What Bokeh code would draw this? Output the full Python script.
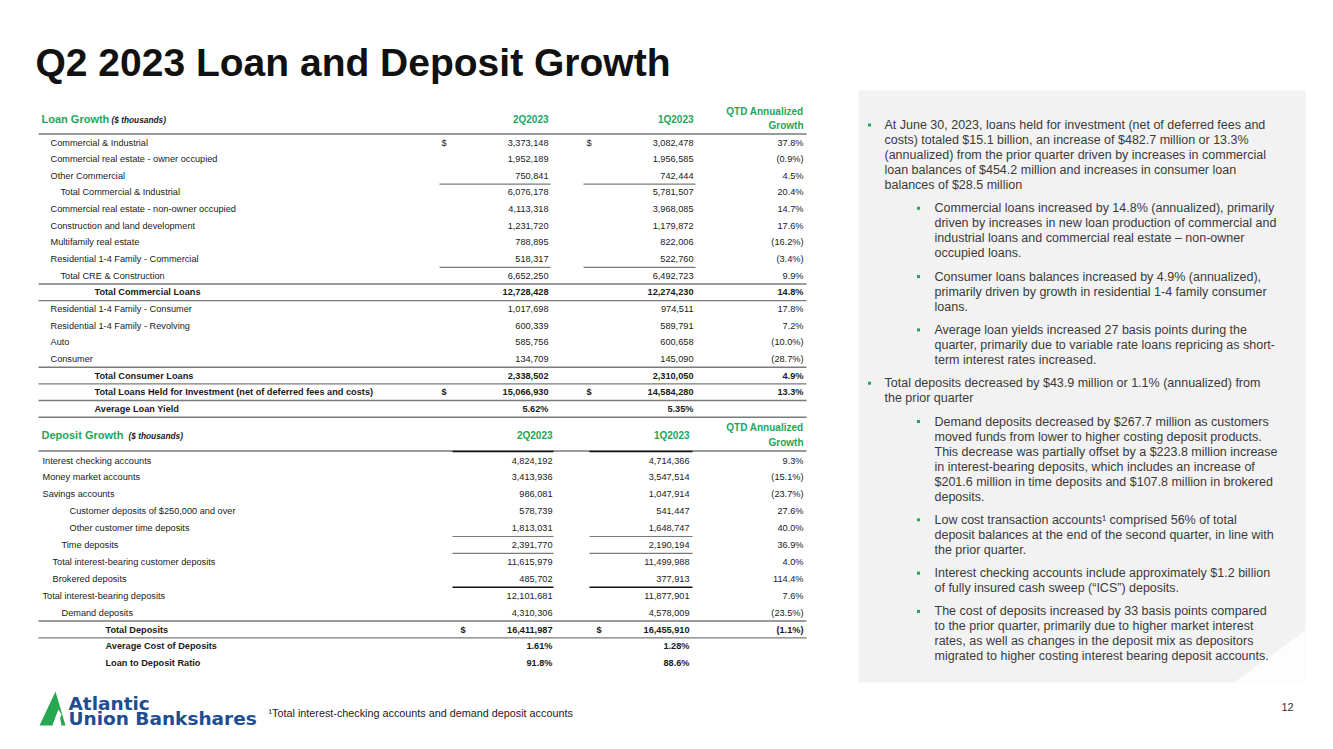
from bokeh.plotting import figure
from bokeh.models import Range1d, ColumnDataSource
from bokeh.embed import file_html
from bokeh.resources import INLINE
from bokeh.core.properties import value

# ---------------- data ----------------
title_text = "Q2 2023 Loan and Deposit Growth"
period_labels = ["2Q2023", "1Q2023"]
growth_header = ["QTD Annualized", "Growth"]
loan_title = ["Loan Growth", "($ thousands)"]
deposit_title = ["Deposit Growth", "($ thousands)"]

loan_labels = [
    "Commercial & Industrial",
    "Commercial real estate - owner occupied",
    "Other Commercial",
    "Total Commercial & Industrial",
    "Commercial real estate - non-owner occupied",
    "Construction and land development",
    "Multifamily real estate",
    "Residential 1-4 Family - Commercial",
    "Total CRE & Construction",
    "Total Commercial Loans",
    "Residential 1-4 Family - Consumer",
    "Residential 1-4 Family - Revolving",
    "Auto",
    "Consumer",
    "Total Consumer Loans",
    "Total Loans Held for Investment (net of deferred fees and costs)",
    "Average Loan Yield",
]
loan_2q = ["3,373,148", "1,952,189", "750,841", "6,076,178", "4,113,318", "1,231,720",
           "788,895", "518,317", "6,652,250", "12,728,428", "1,017,698", "600,339",
           "585,756", "134,709", "2,338,502", "15,066,930", "5.62%"]
loan_1q = ["3,082,478", "1,956,585", "742,444", "5,781,507", "3,968,085", "1,179,872",
           "822,006", "522,760", "6,492,723", "12,274,230", "974,511", "589,791",
           "600,658", "145,090", "2,310,050", "14,584,280", "5.35%"]
loan_growth = ["37.8%", "(0.9%)", "4.5%", "20.4%", "14.7%", "17.6%", "(16.2%)", "(3.4%)",
               "9.9%", "14.8%", "17.8%", "7.2%", "(10.0%)", "(28.7%)", "4.9%", "13.3%", ""]

dep_labels = [
    "Interest checking accounts",
    "Money market accounts",
    "Savings accounts",
    "Customer deposits of  $250,000 and over",
    "Other customer time deposits",
    "Time deposits",
    "Total interest-bearing customer deposits",
    "Brokered deposits",
    "Total interest-bearing deposits",
    "Demand deposits",
    "Total Deposits",
    "Average Cost of Deposits",
    "Loan to Deposit Ratio",
]
dep_2q = ["4,824,192", "3,413,936", "986,081", "578,739", "1,813,031", "2,391,770",
          "11,615,979", "485,702", "12,101,681", "4,310,306", "16,411,987", "1.61%", "91.8%"]
dep_1q = ["4,714,366", "3,547,514", "1,047,914", "541,447", "1,648,747", "2,190,194",
          "11,499,988", "377,913", "11,877,901", "4,578,009", "16,455,910", "1.28%", "88.6%"]
dep_growth = ["9.3%", "(15.1%)", "(23.7%)", "27.6%", "40.0%", "36.9%", "4.0%", "114.4%",
              "7.6%", "(23.5%)", "(1.1%)", "", ""]

bullet_main_1 = [
    "At June 30, 2023, loans held for investment (net of deferred fees and",
    "costs) totaled $15.1 billion, an increase of $482.7 million or 13.3%",
    "(annualized) from the prior quarter driven by increases in commercial",
    "loan balances of $454.2 million and increases in consumer loan",
    "balances of $28.5 million",
]
bullet_sub_1 = [
    ["Commercial loans increased by 14.8% (annualized), primarily",
     "driven by increases in new loan production of commercial and",
     "industrial loans and commercial real estate \u2013 non-owner",
     "occupied loans."],
    ["Consumer loans balances increased by 4.9% (annualized),",
     "primarily driven by growth in residential 1-4 family consumer",
     "loans."],
    ["Average loan yields increased 27 basis points during the",
     "quarter, primarily due to variable rate loans repricing as short-",
     "term interest rates increased."],
]
bullet_main_2 = [
    "Total deposits decreased by $43.9 million or 1.1% (annualized) from",
    "the prior quarter",
]
bullet_sub_2 = [
    ["Demand deposits decreased by $267.7 million as customers",
     "moved funds from lower to higher costing deposit products.",
     "This decrease was partially offset by a $223.8 million increase",
     "in interest-bearing deposits, which includes an increase of",
     "$201.6 million in time deposits and  $107.8 million in brokered",
     "deposits."],
    ["Low cost transaction accounts\u00b9 comprised 56% of total",
     "deposit balances at the end of the second quarter, in line with",
     "the prior quarter."],
    ["Interest checking accounts include approximately $1.2 billion",
     "of fully insured cash sweep (\u201cICS\u201d) deposits."],
    ["The cost of deposits increased by 33 basis points compared",
     "to the prior quarter, primarily due to higher market interest",
     "rates, as well as changes in the deposit mix as depositors",
     "migrated to higher costing interest bearing deposit accounts."],
]
footnote_text = "\u00b9Total interest-checking accounts and demand deposit accounts"
page_number = "12"
logo_lines = ["Atlantic", "Union Bankshares"]

# ---------------- layout / style ----------------
FONT = "Liberation Sans"
GREEN = "#22a65a"
TXT = "#1a1a1a"
BTXT = "#3a3a3a"
RULE = "#8c8c8c"
W, H = 1325, 745

p = figure(width=W, height=H, x_range=Range1d(0, W), y_range=Range1d(H, 0),
           output_backend="svg", toolbar_location=None, min_border=0,
           x_axis_location=None, y_axis_location=None)
p.grid.visible = False
p.outline_line_color = None
p.background_fill_color = "white"
p.border_fill_color = "white"


def add_text(xs, ys, texts, size, color=TXT, align="left", style="normal",
             baseline="middle", font=FONT):
    src = ColumnDataSource(dict(x=list(xs), y=list(ys), t=list(texts)))
    p.text(x="x", y="y", text="t", source=src, text_font=value(font),
           text_font_size=size, text_color=color, text_align=align,
           text_baseline=baseline, text_font_style=style)


def rules(x0, x1, ys, color=RULE, width=1.3):
    p.segment(x0=list(x0), y0=list(ys), x1=list(x1), y1=list(ys),
              line_color=color, line_width=width)


# title
add_text([35], [62], [title_text], "39px", color="#111111", style="bold", baseline="alphabetic")

# right panel
p.quad(left=858, right=1305, top=90, bottom=682, fill_color="#f2f2f2", line_color=None)
p.patch([1305, 1305, 1232], [630, 683, 683], fill_color="white", fill_alpha=0.85, line_color=None)

# ---------- loan table ----------
L0, LSTEP = 142.0, 16.65
loan_y = [L0 + i * LSTEP for i in range(len(loan_labels))]
loan_x = [50, 50, 50, 60, 50, 50, 50, 50, 60, 94, 50, 50, 50, 50, 94, 94, 94]
loan_bold = {9, 14, 15, 16}
C2R, C1R, CGR = 548, 693, 803

add_text([41], [118.5], [loan_title[0]], "11px", color=GREEN, style="bold")
add_text([111], [119], [loan_title[1]], "8.3px", color=TXT, style="bold italic")
add_text([C2R, C1R], [118.5, 118.5], period_labels, "10px", color=GREEN, align="right", style="bold")
add_text([CGR, CGR], [111, 125], growth_header, "10px", color=GREEN, align="right", style="bold")
rules([38], [806], [133.5], color="#9a9a9a", width=2)

for bold in (False, True):
    idx = [i for i in range(len(loan_labels)) if (i in loan_bold) == bold]
    st = "bold" if bold else "normal"
    add_text([loan_x[i] for i in idx], [loan_y[i] for i in idx], [loan_labels[i] for i in idx], "9.2px", style=st)
    add_text([C2R] * len(idx), [loan_y[i] for i in idx], [loan_2q[i] for i in idx], "9.2px", align="right", style=st)
    add_text([C1R] * len(idx), [loan_y[i] for i in idx], [loan_1q[i] for i in idx], "9.2px", align="right", style=st)
    add_text([CGR] * len(idx), [loan_y[i] for i in idx], [loan_growth[i] for i in idx], "9.2px", align="right", style=st)

add_text([441, 586], [loan_y[0]] * 2, ["$"] * 2, "9.2px", style="normal")
add_text([441, 586], [loan_y[15]] * 2, ["$"] * 2, "9.2px", style="bold")
col_rule_rows = [2, 7]
ys = [loan_y[i] + 8.3 for i in col_rule_rows]
rules([439] * 2 + [583] * 2, [550] * 2 + [695] * 2, ys + ys, color="#7a7a7a", width=1.2)
full_rule_rows = [8, 9, 13, 14, 15, 16]
ys = [loan_y[i] + 8.3 for i in full_rule_rows]
rules([38] * len(ys), [806] * len(ys), ys, color="#7a7a7a", width=1.4)

# ---------- deposit table ----------
D0, DSTEP = 460.0, 16.9
dep_y = [D0 + i * DSTEP for i in range(len(dep_labels))]
dep_x = [42, 42, 42, 69, 69, 61, 52, 52, 42, 61, 105, 105, 105]
dep_bold = {10, 11, 12}
D2R, D1R = 552, 689

add_text([41], [434.5], [deposit_title[0]], "11px", color=GREEN, style="bold")
add_text([128], [435], [deposit_title[1]], "8.3px", color=TXT, style="bold italic")
add_text([D2R, D1R], [434.5, 434.5], period_labels, "10px", color=GREEN, align="right", style="bold")
add_text([CGR, CGR], [427, 442], growth_header, "10px", color=GREEN, align="right", style="bold")
rules([38], [806], [450.5], color="#9a9a9a", width=2)
rules([452, 589], [553, 692], [451, 451], color="#111111", width=1.6)

for bold in (False, True):
    idx = [i for i in range(len(dep_labels)) if (i in dep_bold) == bold]
    st = "bold" if bold else "normal"
    add_text([dep_x[i] for i in idx], [dep_y[i] for i in idx], [dep_labels[i] for i in idx], "9.2px", style=st)
    add_text([D2R] * len(idx), [dep_y[i] for i in idx], [dep_2q[i] for i in idx], "9.2px", align="right", style=st)
    add_text([D1R] * len(idx), [dep_y[i] for i in idx], [dep_1q[i] for i in idx], "9.2px", align="right", style=st)
    add_text([CGR] * len(idx), [dep_y[i] for i in idx], [dep_growth[i] for i in idx], "9.2px", align="right", style=st)

add_text([460, 596], [dep_y[10]] * 2, ["$", "$"], "9.2px", style="bold")
ys = [dep_y[i] + 8.4 for i in (4, 5)]
rules([452] * 2 + [589] * 2, [553] * 2 + [692] * 2, ys + ys, color="#7a7a7a", width=1.2)
yb = dep_y[7] + 8.4
rules([452, 589], [553, 692], [yb, yb], color="#111111", width=1.4)
ys = [dep_y[i] + 8.4 for i in (9, 10)]
rules([38, 38], [806, 806], ys, color="#7a7a7a", width=1.4)

# ---------- bullets ----------
LINE, PARA = 15.0, 23.3
MX, MTX, SX, STX = 869, 884, 918, 934
bx, by, tx, ty, tt = [], [], [], [], []
y = 124.5


def paragraph(lines, dot_x, text_x, y):
    bx.append(dot_x)
    by.append(y)
    for k, s in enumerate(lines):
        tx.append(text_x)
        ty.append(y + k * LINE)
        tt.append(s)
    return y + (len(lines) - 1) * LINE + PARA


y = paragraph(bullet_main_1, MX, MTX, y)
for sub in bullet_sub_1:
    y = paragraph(sub, SX, STX, y)
y = paragraph(bullet_main_2, MX, MTX, y)
for sub in bullet_sub_2:
    y = paragraph(sub, SX, STX, y)

add_text(tx, ty, tt, "12.5px", color=BTXT)
p.scatter(x=bx, y=by, marker="square", size=3, fill_color=GREEN, line_color=None)

# ---------- footer ----------
add_text([268], [712], [footnote_text], "10.8px", color=TXT)
add_text([1287], [706], [page_number], "11px", color="#333333", align="center")

# logo
p.patch([39, 55, 65, 61, 58, 52], [725, 691, 725, 725, 709, 725], fill_color="#27a74f", line_color=None)
p.patch([52, 58, 61, 57], [725, 709, 714, 725], fill_color="white", line_color=None)
add_text([68], [703], [logo_lines[0]], "18.5px", color="#1e4d92", style="bold", font="DejaVu Sans")
add_text([68], [718], [logo_lines[1]], "18.5px", color="#1e4d92", style="bold", font="DejaVu Sans")

open("out.html", "w").write(file_html(p, INLINE))
